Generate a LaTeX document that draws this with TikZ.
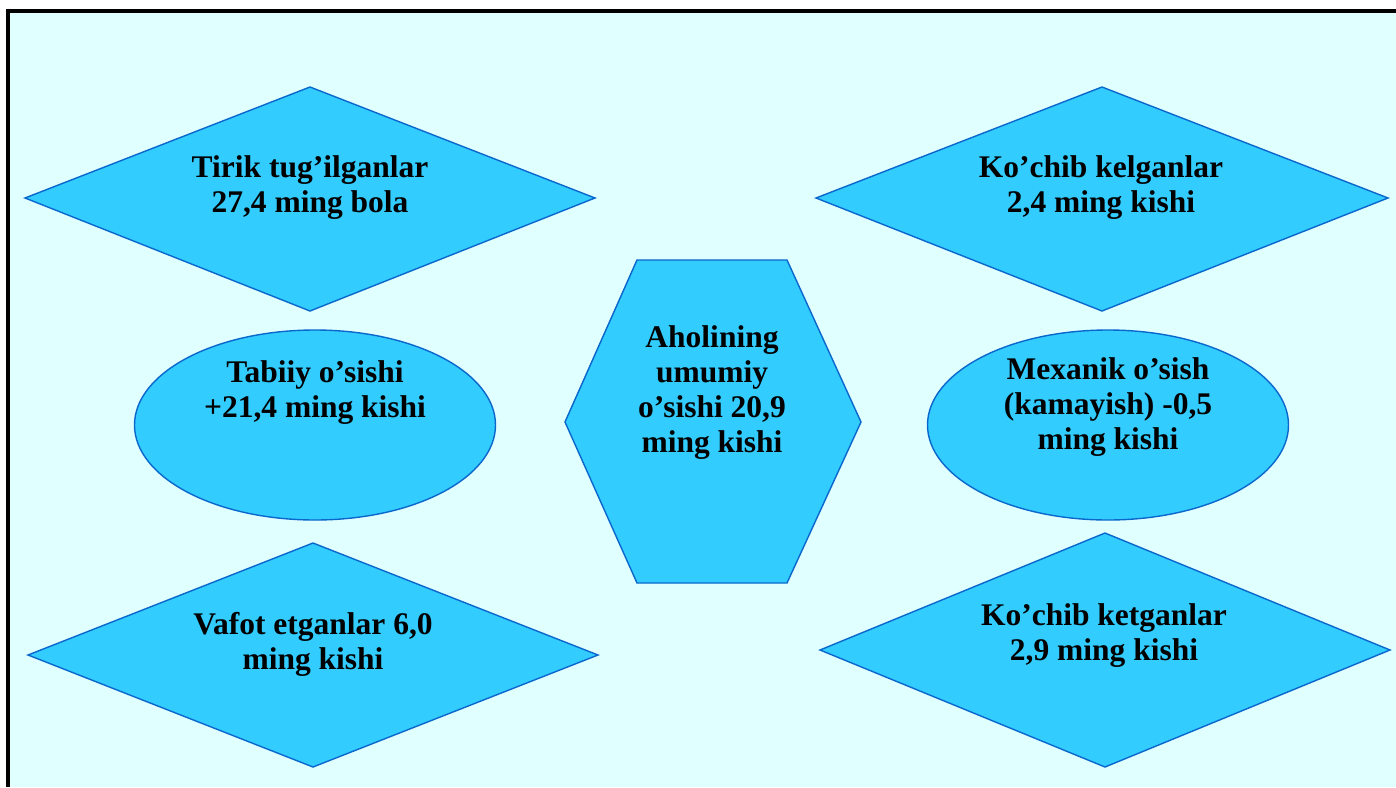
\documentclass[tikz,border=0pt]{standalone}
\usepackage{fontspec}
\setmainfont{Liberation Serif}
\definecolor{page}{HTML}{E0FFFF}
\definecolor{shape}{HTML}{33CCFF}
\definecolor{edge}{HTML}{0A68CC}
\tikzset{
  blob/.style={fill=shape,draw=edge,line width=1.4pt,line join=miter},
  txt/.style={align=center,inner sep=0pt,font=\bfseries\fontsize{31.5}{35}\selectfont}
}

\begin{document}
\begin{tikzpicture}[x=1pt,y=-1pt]
  \useasboundingbox (0,0) rectangle (1396,787);
  \fill[page] (8,11) rectangle (1396,787);
  \draw[line width=3.5pt] (8,787) -- (8,11) -- (1396,11);
  % diamonds
  \draw[blob] (25,198) -- (310,87) -- (595,198) -- (310,311) -- cycle;
  \draw[blob] (816,198) -- (1102,87) -- (1388,198) -- (1102,311) -- cycle;
  \draw[blob] (28,655) -- (313,543) -- (598,655) -- (313,767) -- cycle;
  \draw[blob] (820,650) -- (1105,533) -- (1390,650) -- (1105,767) -- cycle;
  % ellipses
  \draw[blob] (315,425) ellipse (180.5 and 95);
  \draw[blob] (1108,425) ellipse (180.5 and 95);
  % hexagon
  \draw[blob] (565,422) -- (637,260) -- (787,260) -- (861,422) -- (787,583) -- (637,583) -- cycle;
  % texts
  \node[txt] (born) at (310,188) {Tirik tug’ilganlar\\27,4 ming bola};
  \node[txt] (came) at (1101,188) {Ko’chib kelganlar\\2,4 ming kishi};
  \node[txt] (natural) at (315,393) {Tabiiy o’sishi\\+21,4 ming kishi};
  \node[txt] (total) at (712,393) {Aholining\\umumiy\\o’sishi 20,9\\ming kishi};
  \node[txt] (mech) at (1108,407) {Mexanik o’sish\\(kamayish) -0,5\\ming kishi};
  \node[txt] (died) at (313,644) {Vafot etganlar 6,0\\ming kishi};
  \node[txt] (left) at (1104,636) {Ko’chib ketganlar\\2,9 ming kishi};
\end{tikzpicture}
\end{document}
